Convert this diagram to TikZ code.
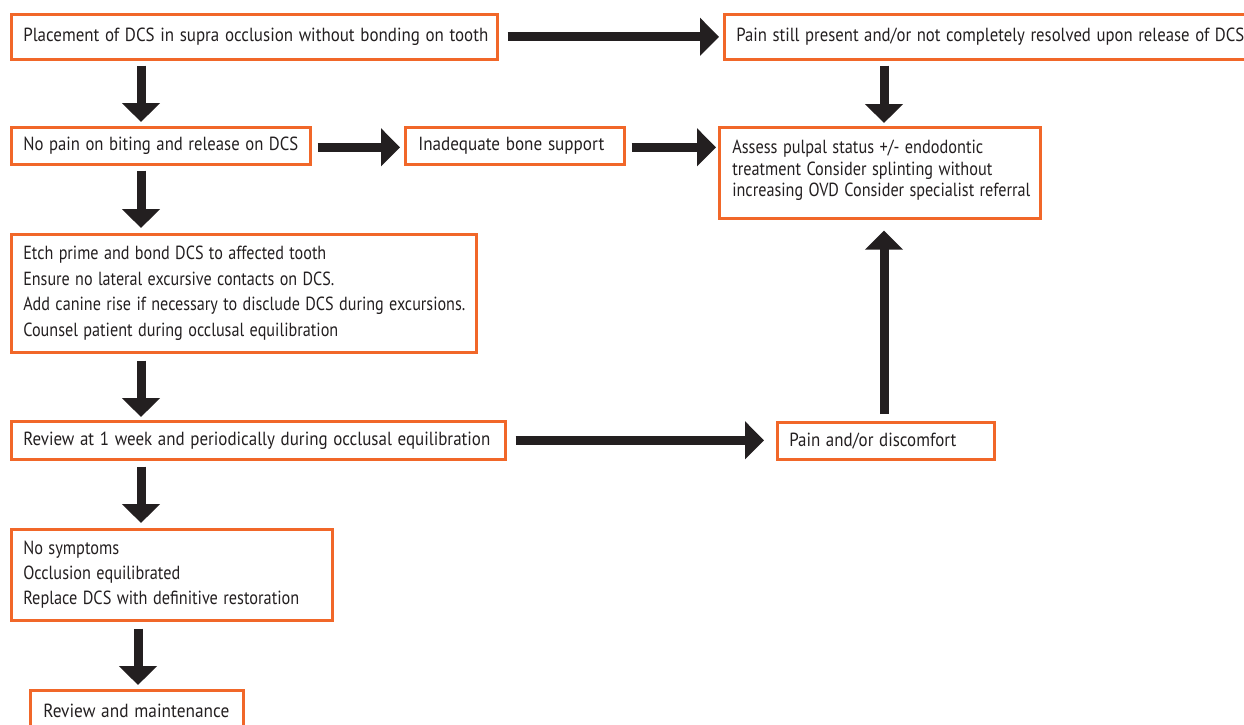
\documentclass[tikz,border=0pt]{standalone}
\usepackage{fontspec}
\usepackage{graphicx}
\setmainfont{PT Sans}
\usetikzlibrary{arrows.meta}
\definecolor{orng}{RGB}{241,103,41}
\definecolor{ink}{RGB}{35,31,32}
\newcommand\fitw[2]{\resizebox{#1pt}{\height}{#2}}
\tikzset{
  box/.style={draw=orng, line width=2.6pt, anchor=north west, inner xsep=12pt, inner ysep=0pt,
    align=left, text=ink, font=\fontsize{19}{21.5}\selectfont},
  arr/.style={draw=ink, line width=9pt, -{Triangle[width=37pt,length=19pt]}}
}
\begin{document}
\begin{tikzpicture}[x=1pt,y=-1pt]
\useasboundingbox (0,0) rectangle (1244,724);
\node[box, minimum width=486pt, minimum height=45pt, text width=462pt] (b1) at (10,13) {\fitw{465}{Placement of DCS in supra occlusion without bonding on tooth}};
\node[box, minimum width=540pt, minimum height=45pt, text width=516pt] (p1) at (723,13) {\fitw{508}{Pain still present and/or not completely resolved upon release of DCS}};
\node[box, minimum width=299pt, minimum height=37pt, text width=275pt, inner xsep=12pt] (b2) at (10,126) {\fitw{275}{No pain on biting and release on DCS}};
\node[box, minimum width=219pt, minimum height=37pt, text width=193pt, inner xsep=13pt] (ib) at (404,126) {\fitw{186}{Inadequate bone support}};
\node[box, minimum width=321pt, minimum height=91pt, text width=295pt, inner xsep=13pt] (as) at (718,126) {\fitw{251}{Assess pulpal status +/- endodontic}\\\fitw{260}{treatment Consider splinting without}\\\fitw{298}{increasing OVD Consider specialist referral}\\[-13pt]\mbox{}};
\node[box, minimum width=465pt, minimum height=118pt, text width=441pt, font=\fontsize{19}{25.5}\selectfont] (b3) at (10,233) {\fitw{303}{Etch prime and bond DCS to affected tooth}\\\fitw{311}{Ensure no lateral excursive contacts on DCS.}\\\fitw{442}{Add canine rise if necessary to disclude DCS during excursions.}\\\fitw{315}{Counsel patient during occlusal equilibration}};
\node[box, minimum width=494pt, minimum height=38pt, text width=470pt] (b4) at (10,420) {\fitw{467}{Review at 1 week and periodically during occlusal equilibration}};
\node[box, minimum width=217pt, minimum height=37pt, text width=193pt] (pd) at (776,421) {\fitw{167}{Pain and/or discomfort}};
\node[box, minimum width=321pt, minimum height=91pt, text width=297pt, font=\fontsize{19}{25}\selectfont] (b5) at (10,528) {\fitw{96}{No symptoms}\\\fitw{157}{Occlusion equilibrated}\\\fitw{276}{Replace DCS with definitive restoration}};
\node[box, minimum width=213pt, minimum height=41pt, text width=187pt, inner xsep=13pt] (b6) at (29,689) {\fitw{186}{Review and maintenance}};

\draw[arr] ([xshift=131pt,yshift=-5pt]b1.south west) -- ([xshift=131pt,yshift=4pt]b2.north west);
\draw[arr] ([xshift=9pt]b1.east) -- ([xshift=-4pt]p1.west);
\draw[arr] ([xshift=161pt,yshift=-5pt]p1.south west) -- ([xshift=166pt,yshift=3pt]as.north west);
\draw[arr] ([xshift=6pt,yshift=-1.5pt]b2.east) -- ([xshift=-4pt,yshift=-1.5pt]ib.west);
\draw[arr] ([xshift=6pt,yshift=-1.5pt]ib.east) -- ([xshift=-2pt,yshift=-1.5pt]ib.east -| as.west);
\draw[arr] ([xshift=131pt,yshift=-5pt]b2.south west) -- ([xshift=131pt,yshift=5pt]b3.north west);
\draw[arr] ([xshift=131pt,yshift=-7pt]b3.south west) -- ([xshift=131pt,yshift=3pt]b4.north west);
\draw[arr] ([xshift=9pt]b4.east) -- ([xshift=-12pt]b4.east -| pd.west);
\draw[arr] ([xshift=108pt,yshift=7pt]pd.north west) -- ([xshift=166pt,yshift=-11pt]as.south west);
\draw[arr] ([xshift=131pt,yshift=-6pt]b4.south west) -- ([xshift=131pt,yshift=5pt]b5.north west);
\draw[arr] ([xshift=128pt,yshift=-7pt]b5.south west) -- ([xshift=109pt,yshift=4pt]b6.north west);
\end{tikzpicture}
\end{document}
